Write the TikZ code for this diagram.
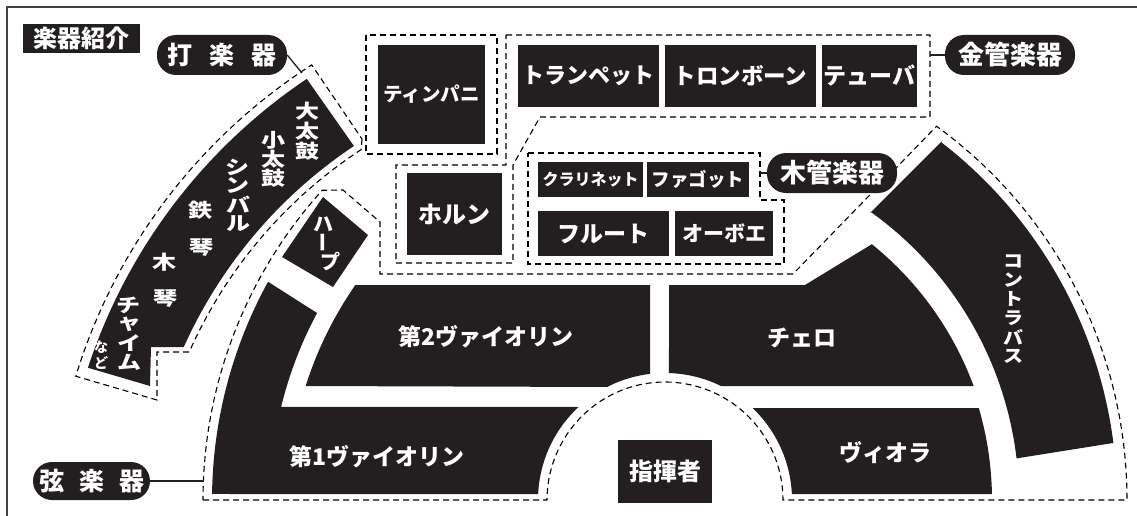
\documentclass[tikz,border=0pt]{standalone}
\usepackage{graphicx}
\usepackage{fontspec}
\newfontfamily\jp{Noto Sans CJK JP}
\definecolor{ink}{RGB}{35,31,32}
\newcommand{\fsz}[1]{\fontsize{#1}{#1}\selectfont}
\newcommand{\vch}[1]{\scalebox{1}[0.8]{#1}}
\newcommand{\cbch}[1]{\scalebox{1}[0.88]{#1}}
\tikzset{
  blk/.style={fill=ink, text=white, inner sep=0pt, font=\jp\bfseries},
  pill/.style={fill=ink, text=white, inner sep=0pt, rounded corners=19pt, font=\jp\bfseries},
  grp/.style={draw=black, line width=1.1pt, dash pattern=on 6pt off 4pt},
  conn/.style={draw=ink, line width=1.3pt},
  wch/.style={text=white, inner sep=0pt, font=\jp\bfseries},
  pch/.style={text=white, inner sep=0pt, font=\jp\bfseries\fsz{24}},
  framed/.style={draw=ink!85, line width=1.5pt},
}
\begin{document}
\begin{tikzpicture}[x=1pt,y=-1pt]
\useasboundingbox (0,0) rectangle (1137,516);
% frame
\draw[framed] (7,516) -- (7,7) -- (1137,7);

% ---------- percussion ----------
\fill[ink] plot[domain=123.9:161.8,samples=60] ({618+558*cos(\x)},{542-558*sin(\x)})
  -- (150,386) -- (151,347) -- (184,347)
  -- plot[domain=155.81:123.7,samples=60] ({618+476*cos(\x)},{542-476*sin(\x)}) -- cycle;
\draw[grp] (362,139)
  -- plot[domain=123.2:156.1,samples=60] ({618+469*cos(\x)},{542-469*sin(\x)})
  -- (157,352) -- (157,400)
  -- plot[domain=163:122.7,samples=60] ({618+567*cos(\x)},{542-567*sin(\x)}) -- cycle;
\foreach \c/\px/\py [count=\i] in {大/307/111,太/307/131,鼓/307/151,
   小/273/140,太/273/159,鼓/273/178,
   シ/237/167,ン/237/186,バ/238/205,ル/238/224,
   鉄/200/210,琴/201/248,
   木/164/262,琴/165/299,
   チ/128/305,ャ/129/324,イ/129/343,ム/129/362}
  \node[pch] (perc\i) at (\px,\py) {\vch{\c}};
\node[wch, font=\jp\bfseries\fsz{14}] (nado1) at (101,347) {な};
\node[wch, font=\jp\bfseries\fsz{14}] (nado2) at (101,363) {ど};

% ---------- timpani ----------
\draw[grp] (366,35) rectangle (497,154);
\node[blk, minimum width=107pt, minimum height=99pt] (timp) at (431.5,94.5) {\fsz{19.5}ティンパニ};

% ---------- brass ----------
\draw[grp] (506,35) -- (930,35) -- (930,117) -- (540,117) -- (513,165) -- (513,263)
  -- (396,263) -- (396,165) -- (506,165) -- cycle;
\node[blk, minimum width=141pt, minimum height=62pt] (trp) at (588.5,76) {\fsz{22}トランペット};
\node[blk, minimum width=151pt, minimum height=62pt] (trb) at (740.5,76) {\fsz{22.5}トロンボーン};
\node[blk, minimum width=95pt, minimum height=62pt] (tub) at (869.5,76) {\fsz{23}テューバ};
\node[blk, minimum width=95pt, minimum height=82pt] (hrn) at (454.5,214) {\fsz{24}ホルン};

% ---------- woodwinds ----------
\draw[grp] (528,153) -- (760,153) -- (760,200) -- (784,200) -- (784,264) -- (528,264) -- cycle;
\node[blk, minimum width=105pt, minimum height=35pt] (cla) at (590.5,179.5) {\fsz{16}クラリネット};
\node[blk, minimum width=102pt, minimum height=35pt] (fag) at (698,179.5) {\fsz{18.5}ファゴット};
\node[blk, minimum width=131pt, minimum height=45pt] (flu) at (603.5,233.5) {\fsz{23}フルート};
\node[blk, minimum width=98pt, minimum height=45pt] (obo) at (724,233.5) {\fsz{21}オーボエ};

% ---------- strings ----------
\draw[grp] (203,500) -- (547,500)
  -- plot[domain=180:0,samples=80] ({665+118*cos(\x)},{500-118*sin(\x)})
  -- (1127,500)
  -- plot[domain=0:54,samples=80] ({665+462*cos(\x)},{500-462*sin(\x)})
  -- (793,274) -- (380,274) -- (380,222) -- (343,190)
  -- plot[domain=137.9:180,samples=80] ({665+462*cos(\x)},{500-462*sin(\x)}) -- cycle;
% harp
\fill[ink] (323,197) -- (368,235) -- (333,287) -- (282,257) -- cycle;
\node[wch, font=\jp\bfseries\fsz{20}] (hp1) at (323,224) {ハ};
\node[wch, font=\jp\bfseries\fsz{20}, rotate=90] (hp2) at (326,242) {ー};
\node[wch, font=\jp\bfseries\fsz{20}] (hp3) at (330,262) {プ};
% 1st violin
\fill[ink] plot[domain=179.24:151.2,samples=60] ({665+453*cos(\x)},{500-453*sin(\x)})
  -- (317,313)
  -- plot[domain=151.75:166.35,samples=40] ({665+395*cos(\x)},{500-395*sin(\x)})
  -- plot[domain=132.9:177.3,samples=40] ({665+127*cos(\x)},{500-127*sin(\x)}) -- cycle;
% 2nd violin
\fill[ink] (355,285) -- (650,285) -- (650,373.9)
  -- plot[domain=96.78:117.15,samples=30] ({665+127*cos(\x)},{500-127*sin(\x)})
  -- plot[domain=162.4:145.4,samples=40] ({665+377*cos(\x)},{500-377*sin(\x)}) -- cycle;
% cello
\fill[ink] (669,285) -- (805,285)
  -- plot[domain=51.04:20.27,samples=50] ({665+329*cos(\x)},{500-329*sin(\x)})
  -- plot[domain=63.84:88.2,samples=30] ({665+127*cos(\x)},{500-127*sin(\x)}) -- cycle;
% viola
\fill[ink] plot[domain=46.42:2.71,samples=40] ({665+127*cos(\x)},{500-127*sin(\x)})
  -- plot[domain=1.05:16.34,samples=30] ({665+327*cos(\x)},{500-327*sin(\x)}) -- cycle;
% contrabass
\fill[ink] (943,140) -- (870,213)
  -- plot[domain=54.46:6.75,samples=60] ({665+354*cos(\x)},{500-354*sin(\x)})
  -- (1113,443)
  -- plot[domain=7.25:52.32,samples=60] ({665+452*cos(\x)},{500-452*sin(\x)}) -- cycle;
\node[wch, font=\jp\bfseries\fsz{23}] (v1t) at (377,457) {第1ヴァイオリン};
\node[wch, font=\jp\bfseries\fsz{23}] (v2t) at (486,337) {第2ヴァイオリン};
\node[wch, font=\jp\bfseries\fsz{23}] (vct) at (802,338) {チェロ};
\node[wch, font=\jp\bfseries\fsz{23}] (vat) at (885,453) {ヴィオラ};
\foreach \c [count=\i] in {コ,ン,ト,ラ,バ,ス}
  \node[wch, font=\jp\bfseries\fsz{20}] (cb\i) at (1013,{242+19*\i}) {\cbch{\c}};
% conductor
\node[blk, minimum width=94pt, minimum height=63pt] (cond) at (665,471.5) {\fsz{24}指揮者};

% ---------- title and labels ----------
\node[blk, minimum width=117pt, minimum height=29pt] (title) at (81.5,38.5) {\fsz{24}楽器紹介};
\node[pill, minimum width=130pt, minimum height=40pt] (dagakki) at (222,55) {\fsz{25}打\hspace{17pt}楽\hspace{17pt}器};
\node[pill, minimum width=130pt, minimum height=40pt] (kinkan) at (1010,55) {\fsz{26}金管楽器};
\node[pill, minimum width=130pt, minimum height=40pt] (mokkan) at (832,173) {\fsz{26}木管楽器};
\node[pill, minimum width=117pt, minimum height=38pt] (gengakki) at (91.5,481) {\fsz{25}弦\hspace{15pt}楽\hspace{15pt}器};

\coordinate (pc) at (302,73);
\coordinate (bc) at (930,55);
\coordinate (wc) at (760,173);
\coordinate (sc) at (203.5,481);
\draw[conn] (dagakki.east) -- (pc);
\draw[conn] (bc) -- (kinkan.west);
\draw[conn] (wc) -- (mokkan.west);
\draw[conn] (gengakki.east) -- (sc);
\end{tikzpicture}
\end{document}
